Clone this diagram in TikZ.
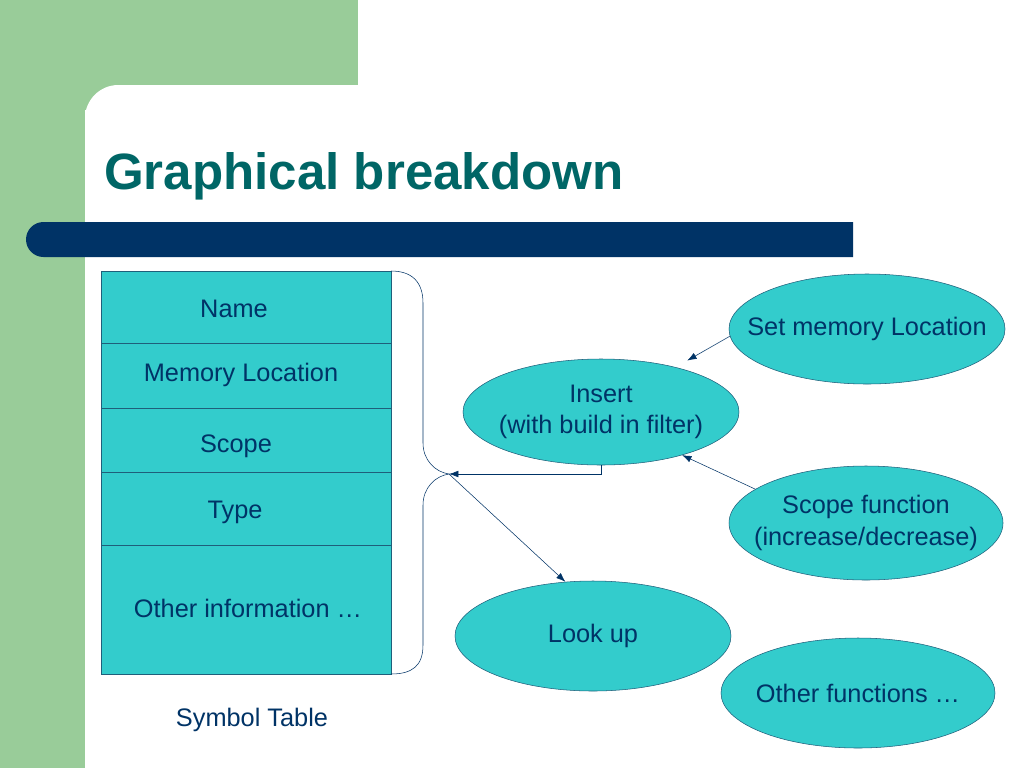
\documentclass[tikz,border=0pt]{standalone}
\usepackage{fontspec}
\setmainfont{Liberation Sans}
\usetikzlibrary{shapes.geometric,arrows.meta}
\definecolor{slidegreen}{HTML}{99CC99}
\definecolor{barblue}{HTML}{003366}
\definecolor{titleteal}{HTML}{006666}
\definecolor{cellcyan}{HTML}{33CCCC}
\definecolor{inkblue}{HTML}{003366}
\definecolor{cellline}{HTML}{1F5F7A}
\newcommand\zw[1]{\makebox[0pt]{#1}}
\tikzset{
  func/.style={ellipse, draw=cellline, fill=cellcyan, inner sep=0pt, align=center, text=inkblue, font=\fontsize{19}{23.5}\selectfont},
  lbl/.style={text=inkblue, inner sep=0pt, font=\fontsize{19}{23.5}\selectfont},
}

\begin{document}
\begin{tikzpicture}[>={Latex[length=7pt,width=5pt]}, x=0.75pt, y=-0.75pt]
        \useasboundingbox (0,0) rectangle (1024,768);
        \fill[white] (0,0) rectangle (1024,768);
        \fill[slidegreen] (0,0) rectangle (358,110);
        \fill[slidegreen] (0,0) rectangle (85,768);
        \fill[white, rounded corners=25] (85,85) rectangle (1024,768);
        \fill[white] (400,85) rectangle (1024,768);
        \fill[white] (85,400) rectangle (1024,768);
        \node[anchor=base west, inner sep=0pt, text=titleteal, font=\fontsize{38.3}{44}\selectfont\bfseries] (title) at (104,189) {Graphical breakdown};
        \fill[barblue] (43.5,257) arc[start angle=90, end angle=270, radius=17.5] -- (853,222) -- (853,257) -- cycle;
        % symbol table
        \fill[cellcyan] (101,271) rectangle (391,674);
        \draw[cellline] (101,271) rectangle (391,674);
        \draw[cellline] (101,343) -- (391,343);
        \draw[cellline] (101,408) -- (391,408);
        \draw[cellline] (101,472) -- (391,472);
        \draw[cellline] (101,545) -- (391,545);
        \node[lbl] (name) at (234,309) {Name};
        \node[lbl] (memloc) at (241,375) {Memory Location};
        \node[lbl] (scope) at (236,446) {Scope};
        \node[lbl] (type) at (235,512) {Type};
        \node[lbl] (other) at (248,608) {Other information …};
        \node[lbl] (symtab) at (252,720) {Symbol Table};
        % brace
        \coordinate (tip) at (449,474);
        \draw[inkblue] (391,271) .. controls (412,271) and (423,282) .. (423,303) -- (423,443)
            .. controls (423,460) and (435,472) .. (tip)
            .. controls (435,476) and (423,488) .. (423,505) -- (423,645)
            .. controls (423,666) and (412,674) .. (391,674);
        % functions
        \node[func, minimum width=207pt, minimum height=79.5pt] (ins) at (601,412) {\zw{Insert}\\\zw{(with build in filter)}};
        \node[func, minimum width=207pt, minimum height=82.5pt] (look) at (593,636) {\zw{Look up}};
        \node[func, minimum width=207pt, minimum height=82.5pt] (setmem) at (867,329) {\zw{Set memory Location}};
        \node[func, minimum width=205.5pt, minimum height=85.5pt] (scopefn) at (866,523) {\zw{Scope function}\\\zw{(increase/decrease)}};
        \node[func, minimum width=205.5pt, minimum height=82.5pt] (otherfn) at (858,693) {\zw{Other functions …}};
        \draw[->, inkblue] (ins.south) |- (tip);
        \draw[->, inkblue] (tip) -- (look.117);
        \draw[->, inkblue, shorten >=10pt] (setmem.183) -- (ins.31);
        \draw[->, inkblue] (scopefn.163) -- (ins.-28);
    \end{tikzpicture}
\end{document}
